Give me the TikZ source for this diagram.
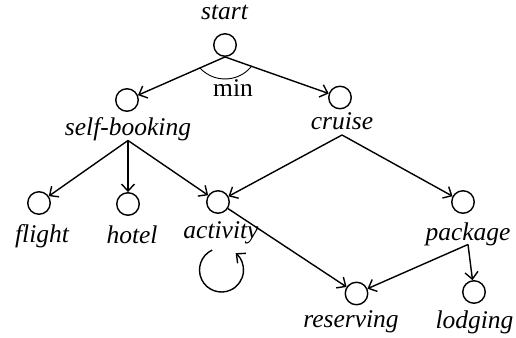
\documentclass[tikz,border=0pt]{standalone}
\usepackage{fontspec}
\setmainfont{Liberation Serif}
\usetikzlibrary{arrows.meta}
\tikzset{
  state/.style={circle, draw, line width=1.4pt, minimum size=22.5pt, inner sep=0pt},
  lbl/.style={anchor=base, inner sep=0pt, font=\fontsize{25.5}{30}\selectfont\itshape},
  conn/.style={line width=1.4pt, -{Straight Barb[length=7pt,width=13pt,line width=1.4pt]}},
}
\begin{document}
\begin{tikzpicture}[x=1pt,y=1pt]
\useasboundingbox (0,0) rectangle (516,-337);
% states
\node[state] (start) at (225,-45) {};
\node[state] (sb) at (127,-100) {};
\node[state] (cruise) at (340,-97.5) {};
\node[state] (flight) at (39,-203) {};
\node[state] (hotel) at (128,-204) {};
\node[state] (activity) at (218,-202) {};
\node[state] (package) at (463,-202) {};
\node[state] (reserving) at (356.5,-293.5) {};
\node[state] (lodging) at (474,-292) {};
% labels
\node[lbl] (startl) at (224.5,-20) {start};
\node[lbl] (sbl) at (128,-135) {self-booking};
\node[lbl] (cruisel) at (342,-129) {cruise};
\node[lbl] (flightl) at (42,-242) {flight};
\node[lbl] (hotell) at (132,-243) {hotel};
\node[lbl] (activityl) at (221,-238) {activity};
\node[lbl] (packagel) at (468,-240) {package};
\node[lbl] (reservingl) at (351,-327) {reserving};
\node[lbl] (lodgingl) at (474.5,-328) {lodging};
\node[inner sep=0pt, anchor=base, font=\fontsize{25.5}{30}\selectfont] (minl) at (233,-96) {min};
% connectors
\draw[conn] (start.south) -- (sb);
\draw[conn] (start.south) -- (cruise);
\draw[line width=0.9pt] (start.center) ++(222:34) arc[start angle=222, end angle=322, radius=34];
\draw[conn] ([yshift=-5.5pt]sbl.base) -- (flight);
\draw[conn] ([yshift=-5.5pt]sbl.base) -- (hotel);
\draw[conn] ([yshift=-5.5pt]sbl.base) -- (activity);
\draw[conn] ([yshift=-6pt]cruisel.base) -- (activity);
\draw[conn] ([yshift=-6pt]cruisel.base) -- (package);
\draw[conn] (activity) -- (reserving);
\draw[conn] ([yshift=-4.5pt]packagel.base) -- (reserving);
\draw[conn] ([yshift=-4.5pt]packagel.base) -- (lodging);
\coordinate (loopc) at (221.5,-270);
\draw[conn] (loopc) ++(115:22) arc[start angle=115, end angle=410, radius=22];
\end{tikzpicture}
\end{document}
